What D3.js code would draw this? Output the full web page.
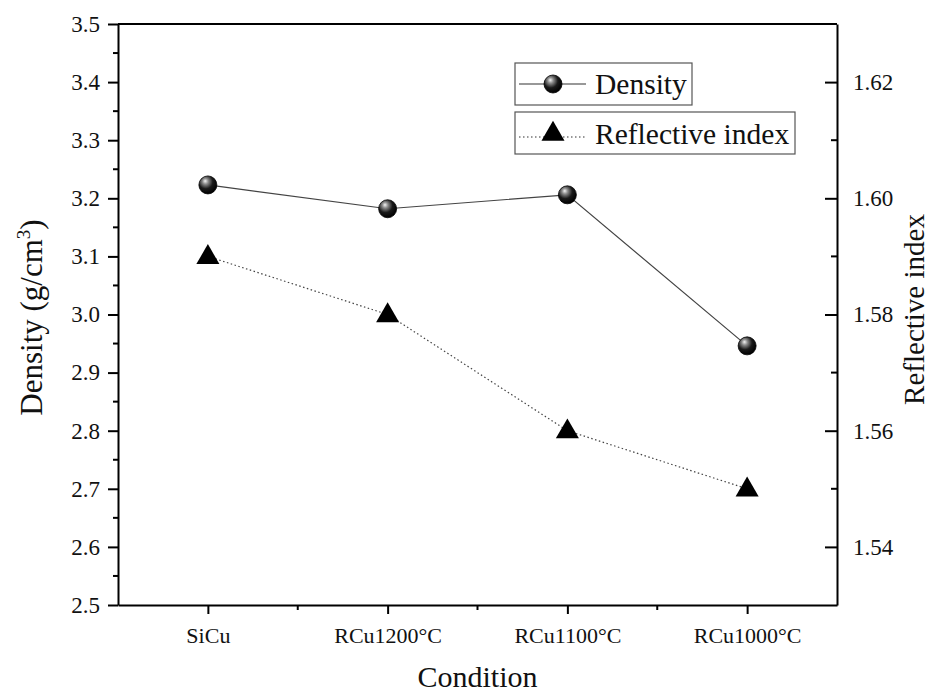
<!DOCTYPE html>
<html lang="en">
<head>
<meta charset="UTF-8">
<title>Density and Reflective index</title>
<script src="https://d3js.org/d3.v7.min.js"></script>
<style>
    body { margin: 0; background: #fff; }
    svg { display: block; }
</style>
</head>
<body>
<div id="chart"></div>
<script>
// Data
const conditions = ["SiCu", "RCu1200°C", "RCu1100°C", "RCu1000°C"];
const density = [3.223, 3.182, 3.206, 2.946];
const reflective = [1.59, 1.58, 1.56, 1.55];
const densityTicks = [2.5, 2.6, 2.7, 2.8, 2.9, 3.0, 3.1, 3.2, 3.3, 3.4, 3.5];
const reflectiveTicks = [1.54, 1.56, 1.58, 1.60, 1.62];

const W = 934, H = 693;
const margin = { top: 24, right: 97, bottom: 88, left: 118 };
const width = W - margin.left - margin.right;
const height = H - margin.top - margin.bottom;
const serif = "'Liberation Serif', 'Times New Roman', serif";

const svg = d3.select("#chart").append("svg")
    .attr("width", W).attr("height", H);

// sphere gradient
const defs = svg.append("defs");
const grad = defs.append("radialGradient").attr("id", "sphere")
    .attr("cx", "40%").attr("cy", "35%").attr("r", "65%")
    .attr("fx", "35%").attr("fy", "28%");
grad.append("stop").attr("offset", "0%").attr("stop-color", "#f4f4f4");
grad.append("stop").attr("offset", "25%").attr("stop-color", "#8a8a8a");
grad.append("stop").attr("offset", "60%").attr("stop-color", "#1a1a1a");
grad.append("stop").attr("offset", "100%").attr("stop-color", "#000");

const g = svg.append("g").attr("transform", `translate(${margin.left},${margin.top})`);

const x = d3.scalePoint().domain(conditions).range([0, width]).padding(0.5);
const yL = d3.scaleLinear().domain([2.5, 3.5]).range([height, 0]);
const yR = d3.scaleLinear().domain([1.53, 1.63]).range([height, 0]);

// minor ticks
const minorL = d3.range(2.55, 3.5, 0.1);
g.selectAll(".minorL").data(minorL).enter().append("line")
    .attr("x1", -5).attr("x2", 0)
    .attr("y1", d => yL(d)).attr("y2", d => yL(d))
    .attr("stroke", "#000").attr("stroke-width", 2);
const minorR = d3.range(1.55, 1.63, 0.02);
g.selectAll(".minorR").data(minorR).enter().append("line")
    .attr("x1", width - 6).attr("x2", width)
    .attr("y1", d => yR(d)).attr("y2", d => yR(d))
    .attr("stroke", "#000").attr("stroke-width", 2);
const step = x.step();
const minorX = conditions.slice(1).map(c => x(c) - step / 2);
g.selectAll(".minorX").data(minorX).enter().append("line")
    .attr("x1", d => d).attr("x2", d => d)
    .attr("y1", height).attr("y2", height + 5)
    .attr("stroke", "#000").attr("stroke-width", 2);

// axes
const axL = g.append("g").call(d3.axisLeft(yL).tickValues(densityTicks).tickFormat(d3.format(".1f")).tickSize(10).tickSizeOuter(0));
const axR = g.append("g").attr("transform", `translate(${width},0)`)
    .call(d3.axisRight(yR).tickValues(reflectiveTicks).tickFormat(d3.format(".2f")).tickSize(0).tickSizeOuter(0));
axR.selectAll(".tick line").attr("x1", -12).attr("x2", 0);
axR.selectAll(".tick text").attr("x", 16);
const axB = g.append("g").attr("transform", `translate(0,${height})`)
    .call(d3.axisBottom(x).tickSize(9).tickSizeOuter(0));
axB.selectAll(".tick text").attr("y", 22);
axL.selectAll(".tick text").attr("x", -18);
[axL, axR, axB].forEach(a => {
    a.attr("font-size", 23);
    a.selectAll(".domain").attr("stroke", "#000").attr("stroke-width", 2);
    a.selectAll(".tick line").attr("stroke", "#000").attr("stroke-width", 2);
    a.selectAll(".tick text").attr("fill", "#111");
});
axB.attr("font-size", 22);
g.append("line").attr("x1", 0).attr("x2", width).attr("y1", 0).attr("y2", 0)
    .attr("stroke", "#000").attr("stroke-width", 2);

// axis titles
svg.append("text").attr("transform", `translate(42,${margin.top + height / 2 + 3}) rotate(-90)`)
    .attr("text-anchor", "middle").attr("font-size", 31)
    .html('Density (g/cm<tspan dy="-12" font-size="19">3</tspan><tspan dy="12">)</tspan>');
svg.append("text").attr("transform", `translate(914,${margin.top + height / 2 - 5}) rotate(-90)`)
    .attr("text-anchor", "middle").attr("dy", "0.35em").attr("font-size", 29)
    .text("Reflective index");
svg.append("text").attr("x", margin.left + width / 2).attr("y", 687)
    .attr("text-anchor", "middle").attr("font-size", 30).text("Condition");

// lines
const lineD = d3.line().x((d, i) => x(conditions[i])).y(d => yL(d));
const lineR = d3.line().x((d, i) => x(conditions[i])).y(d => yR(d));
g.append("path").datum(density).attr("d", lineD)
    .attr("fill", "none").attr("stroke", "#444").attr("stroke-width", 1.2);
g.append("path").datum(reflective).attr("d", lineR)
    .attr("fill", "none").attr("stroke", "#444").attr("stroke-width", 1.2)
    .attr("stroke-dasharray", "1.5,2.5");

const tri = d3.symbol().type(d3.symbolTriangle).size(230);
g.selectAll(".tri").data(reflective).enter().append("path")
    .attr("d", tri)
    .attr("transform", (d, i) => `translate(${x(conditions[i])},${yR(d) + 1})`)
    .attr("fill", "#000");
g.selectAll(".sph").data(density).enter().append("circle")
    .attr("cx", (d, i) => x(conditions[i])).attr("cy", d => yL(d))
    .attr("r", 9).attr("fill", "url(#sphere)").attr("stroke", "#000").attr("stroke-width", 0.8);

// legend
const leg = svg.append("g");
leg.append("rect").attr("x", 515).attr("y", 63).attr("width", 177).attr("height", 42)
    .attr("fill", "#fff").attr("stroke", "#555").attr("stroke-width", 1.2);
leg.append("rect").attr("x", 515).attr("y", 112).attr("width", 280).attr("height", 42)
    .attr("fill", "#fff").attr("stroke", "#555").attr("stroke-width", 1.2);
leg.append("line").attr("x1", 519).attr("x2", 586).attr("y1", 84).attr("y2", 84)
    .attr("stroke", "#333").attr("stroke-width", 1.2);
leg.append("circle").attr("cx", 553).attr("cy", 84).attr("r", 9)
    .attr("fill", "url(#sphere)").attr("stroke", "#000").attr("stroke-width", 0.8);
leg.append("text").attr("x", 595).attr("y", 94).attr("font-size", 29.5).text("Density");
leg.append("line").attr("x1", 519).attr("x2", 586).attr("y1", 137).attr("y2", 137)
    .attr("stroke", "#333").attr("stroke-width", 1.2).attr("stroke-dasharray", "1.5,2.5");
leg.append("path").attr("d", tri).attr("transform", "translate(553,134)").attr("fill", "#000");
leg.append("text").attr("x", 595).attr("y", 144).attr("font-size", 29.5).text("Reflective index");

// every text in the Times-like serif
svg.selectAll("g").filter(function() { return this.hasAttribute("font-family"); })
    .attr("font-family", null);
svg.selectAll("text").style("font-family", serif).style("fill", "#111");
</script>
</body>
</html>
